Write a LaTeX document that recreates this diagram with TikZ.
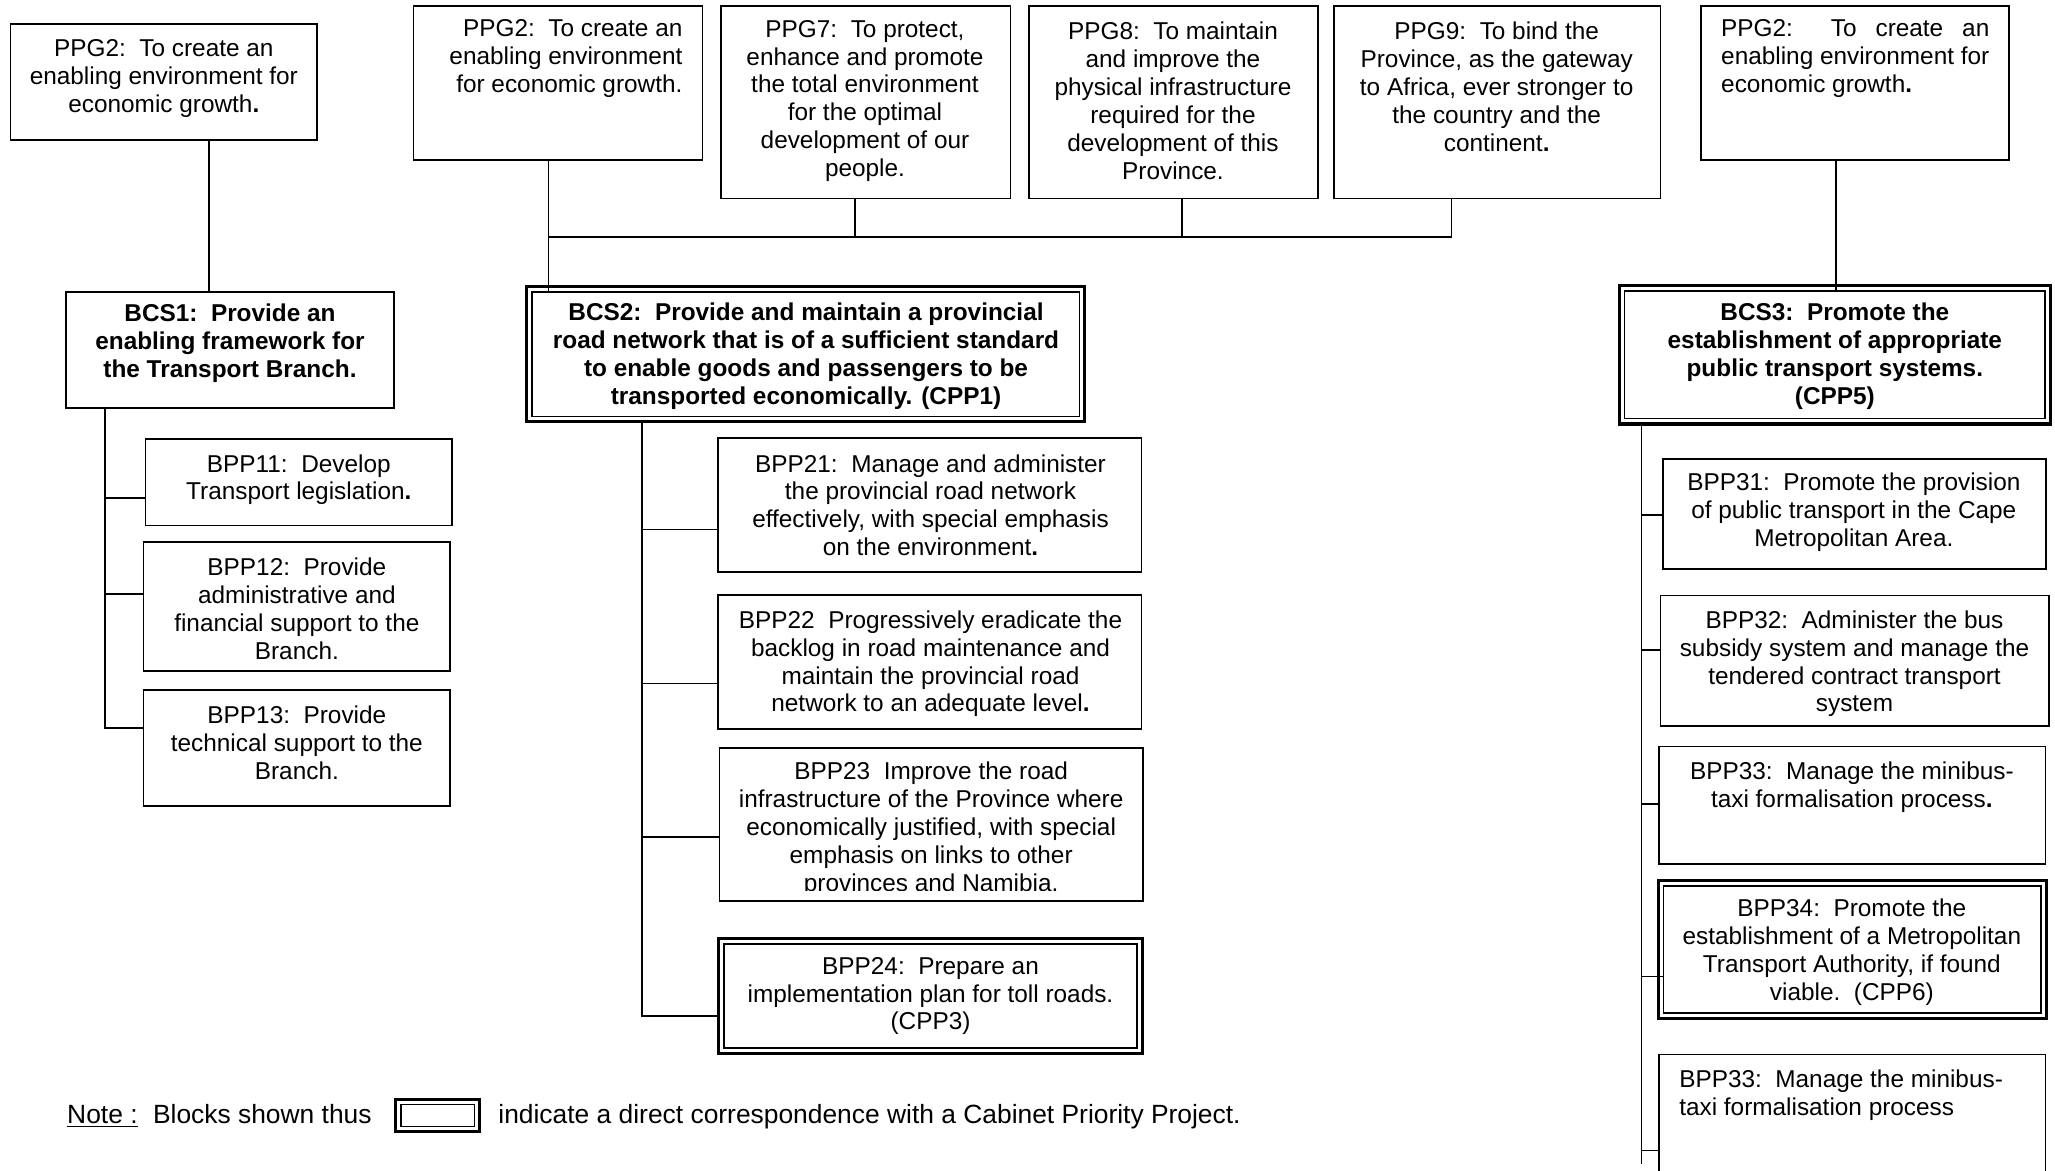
\documentclass[tikz,border=0pt]{standalone}
\usepackage{fontspec}
\setmainfont{Liberation Sans}
\usepackage{calc}
\usetikzlibrary{fit}
\tikzset{
  box/.style={draw, rectangle, line width=0.9pt, inner sep=0pt, outer sep=0pt},
  outerframe/.style={draw, rectangle, line width=1.5pt, inner sep=0pt, outer sep=0pt},
  innerframe/.style={draw, rectangle, line width=0.7pt, inner sep=0pt, outer sep=0pt},
  txt/.style={font=\fontsize{12}{13.75}\selectfont, align=center, inner sep=0pt},
  btxt/.style={font=\fontsize{12}{13.75}\selectfont\bfseries, align=center, inner sep=0pt},
  notetxt/.style={font=\fontsize{13}{15}\selectfont, inner sep=0pt},
  link/.style={line width=0.8pt},
}
\begin{document}
\begin{tikzpicture}[x=0.6456pt, y=-0.6456pt]
\useasboundingbox (0,0) rectangle (1568,893);
\clip (0,0) rectangle (1568,893);

% ---------- provincial goals ----------
\node[box, fit={(8,18)(242,106.5)}] (ppgA) {};
\node[box, fit={(315.5,4.6)(536,122)}] (ppgB) {};
\node[box, fit={(550,4.6)(771,151.5)}] (ppgG) {};
\node[box, fit={(785,4.6)(1005.5,151.5)}] (ppgH) {};
\node[box, fit={(1018,4.6)(1267,151.5)}] (ppgI) {};
\node[box, fit={(1298,4.6)(1533,122)}] (ppgC) {};

\node[txt] (ppgA-t) at (125,60) {PPG2:\ \ To create an\\enabling environment for\\economic growth\textbf{.}};
\node[txt, align=right, anchor=east] (ppgB-t) at (521,44.5) {PPG2:\ \ To create an\\enabling environment\\for economic growth.};
\node[txt] (ppgG-t) at (660,77) {PPG7:\ \ To protect,\\enhance and promote\\the total environment\\for the optimal\\development of our\\people.};
\node[txt] (ppgH-t) at (895,77) {PPG8:\ \ To maintain\\and improve the\\physical infrastructure\\required for the\\development of this\\Province.};
\node[txt] (ppgI-t) at (1142,66) {PPG9:\ \ To bind the\\Province, as the gateway\\to Africa, ever stronger to\\the country and the\\continent\textbf{.}};
\node[txt, align=left, anchor=west] (ppgC-t) at (1313,44.5) {\makebox[\widthof{enabling environment for}][s]{PPG2:\hfill\hfill To\hfill create\hfill an}\\enabling environment for\\economic growth\textbf{.}};

% ---------- branch strategies ----------
\node[box, fit={(50.5,222.5)(300.5,311)}] (bcsA) {};
\node[outerframe, fit={(402,218.7)(827.5,321.7)}] (bcsB) {};
\node[innerframe, fit={([shift={(4,4)}]bcsB.north west)([shift={(-4,-4)}]bcsB.south east)}] (bcsBin) {};
\node[outerframe, fit={(1235.5,218)(1564.5,323.5)}] (bcsC) {};
\node[innerframe, fit={([shift={(4,4)}]bcsC.north west)([shift={(-4,-4)}]bcsC.south east)}] (bcsCin) {};

\node[btxt] (bcsA-t) at (175.5,262) {BCS1:\ \ Provide an\\enabling framework for\\the Transport Branch.};
\node[btxt] (bcsB-t) at (615,271.5) {BCS2:\ \ Provide and maintain a provincial\\road network that is of a sufficient standard\\to enable goods and passengers to be\\transported economically. (CPP1)};
\node[btxt] (bcsC-t) at (1400,271.5) {BCS3:\ \ Promote the\\establishment of appropriate\\public transport systems.\\(CPP5)};

% ---------- programmes under BCS1 ----------
\node[box, fit={(111,335)(345,401)}] (bppA1) {};
\node[box, fit={(109.5,413.6)(343.6,512)}] (bppA2) {};
\node[box, fit={(109.5,526.5)(343.6,615)}] (bppA3) {};
\node[txt] (bppA1-t) at (228,366) {BPP11:\ \ Develop\\Transport legislation\textbf{.}};
\node[txt] (bppA2-t) at (226.5,464.5) {BPP12:\ \ Provide\\administrative and\\financial support to the\\Branch.};
\node[txt] (bppA3-t) at (226.5,567) {BPP13:\ \ Provide\\technical support to the\\Branch.};

% ---------- programmes under BCS2 ----------
\node[box, fit={(548,334)(871,436.5)}] (bppB1) {};
\node[box, fit={(548,454)(871,556.5)}] (bppB2) {};
\node[box, fit={(549,570.7)(872,687.7)}] (bppB3) {};
\node[outerframe, fit={(548,715.8)(872,804)}] (bppB4) {};
\node[innerframe, fit={([shift={(4.5,4.5)}]bppB4.north west)([shift={(-4.5,-4.5)}]bppB4.south east)}] (bppB4in) {};
\node[txt] (bppB1-t) at (710,385.5) {BPP21:\ \ Manage and administer\\the provincial road network\\effectively, with special emphasis\\on the environment\textbf{.}};
\node[txt] (bppB2-t) at (710,506.5) {BPP22\ \ Progressively eradicate the\\backlog in road maintenance and\\maintain the provincial road\\network to an adequate level\textbf{.}};
\begin{scope}
  \clip (549,570.7) rectangle (872,679.5);
  \node[txt] (bppB3-t) at (710.5,632.5) {BPP23\ \ Improve the road\\infrastructure of the Province where\\economically justified, with special\\emphasis on links to other\\provinces and Namibia.};
\end{scope}
\node[txt] (bppB4-t) at (710,760) {BPP24:\ \ Prepare an\\implementation plan for toll roads.\\(CPP3)};

% ---------- programmes under BCS3 ----------
\node[box, fit={(1268.6,350)(1561,434.2)}] (bppC1) {};
\node[box, fit={(1267,454.3)(1563.4,553.9)}] (bppC2) {};
\node[box, fit={(1265.6,569.6)(1560.8,659.3)}] (bppC3) {};
\node[outerframe, fit={(1265.3,672)(1561.2,777)}] (bppC4) {};
\node[innerframe, fit={([shift={(4,4)}]bppC4.north west)([shift={(-4,-4)}]bppC4.south east)}] (bppC4in) {};
\node[box, fit={(1265.6,804.6)(1560.8,910)}] (bppC5) {};
\node[txt] (bppC1-t) at (1414.5,391) {BPP31:\ \ Promote the provision\\of public transport in the Cape\\Metropolitan Area.};
\node[txt] (bppC2-t) at (1415,506.5) {BPP32:\ \ Administer the bus\\subsidy system and manage the\\tendered contract transport\\system};
\node[txt] (bppC3-t) at (1413,600.5) {BPP33:\ \ Manage the minibus-\\taxi formalisation process\textbf{.}};
\node[txt] (bppC4-t) at (1413,726.5) {BPP34:\ \ Promote the\\establishment of a Metropolitan\\Transport Authority, if found\\viable.\ \ (CPP6)};
\node[txt, align=left, anchor=west] (bppC5-t) at (1281,835.5) {BPP33:\ \ Manage the minibus-\\taxi formalisation process};

% ---------- goal connectors ----------
\coordinate (dA) at (159.4,0);
\draw[link] (ppgA.south -| dA) -- (bcsA.north -| dA);
\coordinate (hub) at (418.6,180.6);
\coordinate (dG) at (652.5,180.6);
\coordinate (dH) at (902,180.6);
\coordinate (dI) at (1107.5,180.6);
\draw[link] (ppgB.south -| hub) -- (bcsBin.north -| hub);
\draw[link] (ppgI.south -| dI) -- (dI) -- (hub);
\draw[link] (ppgG.south -| dG) -- (dG);
\draw[link] (ppgH.south -| dH) -- (dH);
\coordinate (dC) at (1401,0);
\draw[link] (ppgC.south -| dC) -- (bcsCin.north -| dC);

% ---------- programme trunks ----------
\coordinate (tA1) at (80,380);
\coordinate (tA2) at (80,453);
\coordinate (tA3) at (80,555.5);
\draw[link] (bcsA.south -| tA3) -- (tA3) -- (tA3 -| bppA3.west);
\draw[link] (tA1) -- (tA1 -| bppA1.west);
\draw[link] (tA2) -- (tA2 -| bppA2.west);

\coordinate (tB1) at (490,404);
\coordinate (tB2) at (490,521.5);
\coordinate (tB3) at (490,638.7);
\coordinate (tB4) at (490,775);
\draw[link] (bcsB.south -| tB4) -- (tB4) -- (tB4 -| bppB4.west);
\draw[link] (tB1) -- (tB1 -| bppB1.west);
\draw[link] (tB2) -- (tB2 -| bppB2.west);
\draw[link] (tB3) -- (tB3 -| bppB3.west);

\coordinate (tC1) at (1252.5,392.8);
\coordinate (tC2) at (1252.5,496);
\coordinate (tC3) at (1252.5,613.5);
\coordinate (tC4) at (1252.5,745);
\coordinate (tC5) at (1252.5,877.8);
\coordinate (tCend) at (1252.5,888);
\draw[link] (bcsC.south -| tCend) -- (tCend);
\draw[link] (tC1) -- (tC1 -| bppC1.west);
\draw[link] (tC2) -- (tC2 -| bppC2.west);
\draw[link] (tC3) -- (tC3 -| bppC3.west);
\draw[link] (tC4) -- (tC4 -| bppC4in.west);
\draw[link] (tC5) -- (tC5 -| bppC5.west);

% ---------- key ----------
\node[notetxt, anchor=base west] (note-a) at (51,857) {\underline{Note :}};
\node[notetxt, anchor=base west] (note-b) at (116.5,857) {Blocks shown thus};
\node[outerframe, fit={(302,838.6)(366,863.5)}] (key) {};
\node[innerframe, fit={([shift={(4,4)}]key.north west)([shift={(-4,-4)}]key.south east)}] (keyin) {};
\node[notetxt, anchor=base west] (note-c) at (380,857) {indicate a direct correspondence with a Cabinet Priority Project.};
\end{tikzpicture}
\end{document}
